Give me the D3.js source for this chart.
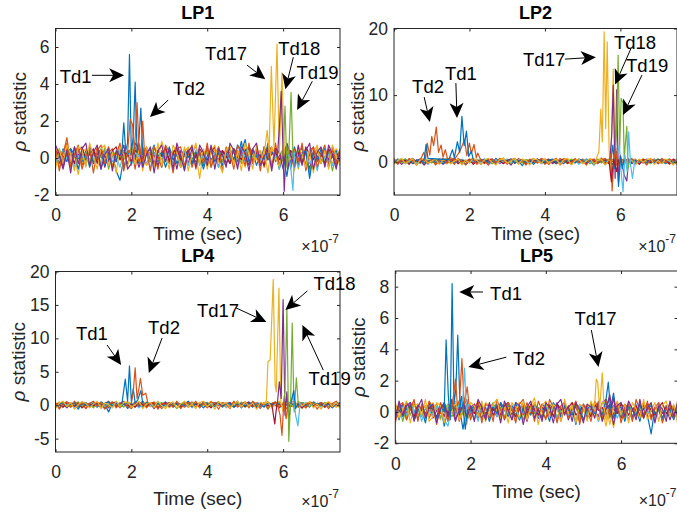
<!DOCTYPE html>
<html lang="en">
<head>
<meta charset="utf-8">
<title>rho statistic, LP1 to LP5</title>
<script src="https://cdn.jsdelivr.net/npm/d3@7"></script>
<style>
  body { margin: 0; background: #fff; }
  svg text { font-family: "Liberation Sans", Arial, Helvetica, sans-serif; fill: #262626; }
  .tick text { font-size: 17.5px; }
  .title { font-size: 18px; font-weight: bold; fill: #000; }
  .axlabel { font-size: 19px; }
  .note { font-size: 18.5px; fill: #000; }
  .expo { font-size: 16px; }
</style>
</head>
<body>
<div id="chart"></div>
<script>
// time axis, in units of 1e-7 s
const timeGrid = d3.range(76).map(i => i / 10);
const xDomain = [0, 7.5];
const xTicks = [0, 2, 4, 6];

const lp1YDomain = [-2, 7], lp1YTicks = [-2, 0, 2, 4, 6];
const lp2YDomain = [-5, 20], lp2YTicks = [0, 10, 20];
const lp4YDomain = [-7, 20], lp4YTicks = [-5, 0, 5, 10, 15, 20];
const lp5YDomain = [-2, 9], lp5YTicks = [-2, 0, 2, 4, 6, 8];

// background rho traces, one row per trace, sampled on timeGrid
const lp1Noise = [
  [.2,-.3,.5,.1,-.4,.6,0,-.2,.4,-.5, .3,.1,-.6,.5,-.1,.2,-.7,-1.2,0,.4, .3,.1,-.3,.6,-.4,.2,.7,-.2,.3,-.5, .1,.4,-.3,.2,-.6,.5,0,-.2,.3,-.4, .6,-.1,.2,-.5,.4,.1,-.3,.5,0,.9, -.2,.6,.3,-.4,.2,-.1,.8,.3,.5,-.6, .2,-1,.4,-.3,.1,.6,-.5,.3,0,-.2, .5,-.4,.3,.1,-.3,.2],
  [-.1,.4,.2,1.1,-.3,.1,.5,-.4,.2,.3, -.2,.6,.1,-.4,.3,.5,-.1,.2,.4,-.3, .1,.6,-.2,.3,.5,-.1,.2,-.6,.4,.1, -.3,.3,.6,-.2,.1,.4,-.5,.2,.3,-.1, .5,-.3,.2,.4,-.2,.6,.1,-.4,.3,.2, -.1,.5,-.3,.2,.4,-.5,.3,.6,-.2,.1, .4,-.3,.2,.5,-.1,.3,-.4,.2,.6,-.2, .1,.3,-.5,.4,.2,-.1],
  [.3,-.5,.2,.4,-.2,.1,-.9,.3,.5,-.1, .2,.4,-.3,.6,.1,-.4,.3,.2,-.6,.4, .1,-.2,.5,.3,-.4,.2,.6,-.1,.9,.3, -.2,.4,.1,-.5,.3,.6,-.3,.2,-1.1,.4, .2,-.4,.5,.1,-.2,.3,.6,-.3,.4,.1, -.5,.3,.2,-.1,.4,-.3,.2,.5,.1,-.4, .3,.6,-.2,.4,-.6,.2,.5,-.1,.3,.7, -.2,.4,.1,-.3,.5,.2],
  [-.2,.1,-.6,.3,.5,-.3,.2,.1,-.4,.6, .2,-.1,.4,-.5,.3,.2,-.2,.5,.1,-.3, .4,.2,-.5,.1,.6,-.2,.3,-.4,.2,.5, -.1,.3,-.6,.4,.2,-.3,.5,.1,-.2,.3, -.4,.6,.2,-.1,.4,-.3,.1,.5,-.2,.3, .2,-.4,.5,.1,-.3,.6,-.1,.2,.4,-.5, .3,.1,-.2,.5,-.4,.3,.2,-.6,.4,.1, -.3,.5,-.1,.2,-.4,.3],
  [.1,.5,-.2,.3,-.4,.2,.6,-.1,.3,-.3, .4,-.2,.1,.5,-.6,.2,.3,-.1,.4,.2, -.3,.5,.1,-.4,.3,-.2,.6,.1,-.5,.2, .4,-.1,.3,-.3,.5,.1,-.2,.4,-.4,.2, .3,-.5,.1,.6,-.2,.3,-.1,.4,.2,-.3, .5,-.2,.1,.3,-.4,.2,.6,-.3,.1,.4, -.2,.3,-.5,.2,.4,-.1,.3,-.8,.2,.5, -.3,.1,.4,-.7,.2,.3],
  [-.3,.2,.4,-.1,.3,-.5,.1,.2,-.3,.5, -.1,.3,-.4,.2,.6,-.2,.1,-.5,.3,.2, -.4,.3,.1,-.2,.5,-.6,.2,.4,-.1,.3, .2,-.3,.5,-.1,.2,-.4,.3,.6,-.2,.1, -.3,.4,.2,-.5,.1,.3,-.2,.5,-.4,.2, .1,.4,-.3,.2,-.1,.5,.3,-.4,.2,-.6, .4,-.2,.3,.1,-.5,.2,.4,-.3,.1,-.7, .3,-.1,.2,-.4,.1,-.2],
  [.4,.1,-.2,.5,.2,-.3,.4,.6,-.1,.2, .5,-.3,.3,.1,-.2,.4,.6,-.1,.3,.2, -.2,.4,.3,-.1,.5,.2,-.3,.4,.1,.6, -.2,.3,.5,-.1,.2,.4,-.3,.1,.5,.2, -.1,.3,.6,-.2,.4,.1,-.3,.5,.2,-.1, .4,.6,-.2,.3,.1,-.4,.5,.2,.3,-.1, .5,-.2,.4,.1,.3,-.3,.6,.2,-.1,.4, .2,-.3,.5,.1,-.2,.3],
  [-.4,.3,.1,-.2,.5,.2,-.6,.3,-.1,.4, -.3,.2,.5,-.4,.1,.3,-.2,.6,-.5,.2, .4,-.1,.3,-.3,.2,.5,-.4,.1,.3,-.2, .6,-.1,.2,-.5,.4,.1,-.3,.3,.2,-.6, .1,.4,-.2,.3,-.4,.2,.5,-.1,.7,.3, 1,-.2,.4,.1,-.3,.5,-.1,.3,.2,-.5, .4,.1,-.3,.6,-.2,.2,.4,-1.1,.3,-.1, .2,.5,-.3,.1,.4,-.2],
  [.6,-.7,.3,.8,-.5,.2,.7,-.6,.1,.5, -.8,.4,.7,-.3,.6,-.5,.2,.8,-.7,.3, .5,-.6,.8,-.2,.4,-.7,.6,.1,-.5,.7, .3,-.8,.5,.6,-.4,.2,.7,-.6,.4,-.3, .8,-.5,.1,.6,-.7,.4,.3,-.6,.7,.2, -.4,.8,-.3,.5,-.7,.6,.2,-.5,.8,-.4, .3,.7,-.6,.5,-.2,.8,-.7,.4,.6,-.5, .2,.7,-.4,.6,-.3,.5],
  [-.6,.5,-.3,.7,.2,-.7,.6,.4,-.5,.8, .1,-.6,.5,.7,-.4,.3,-.8,.6,.2,-.5, .7,-.3,.4,-.7,.6,.1,-.5,.8,-.4,.2, -.6,.7,.3,-.5,.6,-.7,.2,.8,-.3,.5, -.6,.4,.7,-.2,-.8,.5,.6,-.4,.3,-.7, .8,.2,-.6,.7,-.3,.4,-.8,.6,.1,-.5, .7,-.4,.3,-.7,.6,.2,-.5,.5,-.8,.6, -.3,.4,-.6,.7,.1,-.4],
  [.7,.2,-.5,.4,-.8,.6,-.3,.5,.8,-.4, .3,.7,-.6,.2,.5,-.7,.4,.1,.7,-.6, -.3,.8,.5,-.5,.2,.6,-.8,.4,.7,-.2, .5,-.6,.8,.1,-.7,.4,.6,-.5,.7,.3, -.4,.7,-.6,.5,.2,-.5,.8,.4,-.6,.6, .3,-.7,.5,.8,-.4,.1,.6,-.7,.5,.3, -.6,.8,.2,-.5,.7,-.4,.4,.8,-.6,.3, .6,-.5,.7,.2,-.6,.4]
];
const lp2Noise = [
  [.2,-.3,.1,.4,-.2,.3,-.4,.1,.2,-.1, .3,-.2,.4,.1,-.3,.2,.5,-.1,.2,-.4, .1,.3,-.2,.4,-.1,.2,-.3,.5,.1,-.2, .3,-.4,.2,.1,-.6,.3,-.1,.2,.4,-.3, .1,.2,-.2,.3,-.1,.4,.2,-.3,.1,.3, -.2,.4,.1,-.5,.2,-.1,.3,.2,-.4,.1, .3,-.2,.2,.4,-.3,.1,.2,-.1,.3,-.2, .4,.1,-.3,.2,-.1,.3],
  [-.3,.1,.4,-.2,.2,.5,-.1,.3,-.4,.2, .1,-.3,.3,.2,-.2,.4,-.1,.1,.3,-.5, .2,.4,-.1,.2,-.3,.3,.1,-.2,.4,.2, -.1,.3,-.3,.5,.1,-.2,.2,.4,-.1,.3, -.4,.1,.3,-.2,.5,.1,-.3,.2,.3,-.1, .4,-.2,.2,.1,-.3,.3,.5,-.1,.2,-.4, .1,.3,-.2,.2,.4,-.3,.1,.2,-.1,.4, -.2,.3,.1,-.4,.2,.1],
  [.4,-.1,.2,-.3,.3,.1,-.2,.5,-.4,.2, .3,-.1,.1,.4,-.3,.2,-.2,.3,.1,-.4, .5,-.2,.2,.3,-.1,.4,-.3,.1,.2,.6, -.2,.3,.1,-.3,.4,-.1,.2,.5,-.2,.1, .3,-.4,.2,.1,-.1,.5,.3,-.2,.2,.4, -.3,.1,.3,-.2,.2,.6,-.1,.3,.1,-.3, .2,.4,-.2,.1,.3,-.1,.5,-.3,.2,.1, -.2,.4,.3,-.1,.2,-.3],
  [-.2,.3,-.4,.1,.2,-.3,.3,.1,-.5,.2, -.1,.3,.2,-.4,.1,.3,-.2,.2,-.3,.1, .3,-.1,.2,-.4,.3,.1,-.2,.4,-.3,.2, .1,-.5,.3,.2,-.1,.2,-.3,.1,.3,-.2, .2,.4,-.3,.1,-.2,.3,.1,-.4,.2,-.1, .3,-.3,.2,.4,-.2,.1,-.4,.3,.1,-.2, .2,-.1,.3,-.3,.1,.2,-.2,.4,-.1,.2, -.3,.1,.3,-.2,.2,-.1],
  [.1,.3,-.2,.4,-.1,.2,.1,-.3,.3,.2, -.2,.4,-.1,.2,.3,-.3,.1,.4,-.2,.2, -.1,.3,.2,-.3,.1,.4,-.2,.2,.3,-.1, .2,-.3,.4,.1,-.2,.3,.2,-.1,.1,.4, -.2,.2,.3,-.3,.1,.2,-.1,.4,.1,-.2, .3,.2,-.3,.1,.4,-.2,.2,-.1,.3,.1, -.3,.2,.4,-.1,.2,-.2,.3,.1,-.3,.2, .4,-.1,.2,.3,-.2,.1],
  [-.1,.2,.3,-.3,.1,.4,-.2,.1,.3,-.4, .2,.1,-.2,.3,.5,-.1,.2,-.3,.4,.1, -.2,.2,.4,-.1,.3,-.5,.1,.3,-.2,.2, .4,-.1,.2,-.3,.3,.1,-.2,.4,.2,-.1, .3,-.2,.1,.4,-.3,.2,.3,-.1,.2,-.4, .1,.3,-.1,.2,-.2,.4,.1,-.3,.3,.2, -.1,.4,-.2,.1,.3,-.3,.2,.1,-.2,.3, .1,-.3,.2,.4,-.1,.2],
  [.3,-.2,.1,.2,-.4,.3,.1,-.1,.4,-.2, .2,.3,-.3,.1,.2,-.1,.4,-.3,.2,.1, .3,-.4,.1,.2,-.2,.3,.4,-.1,.1,-.3, .2,.4,-.2,.1,.3,-.3,.2,-.1,.4,.1, -.2,.3,.1,-.3,.2,.4,-.2,.1,.3,-.1, .2,-.4,.3,.1,-.2,.3,.2,-.3,.1,.4, -.2,.1,.3,-.1,.2,-.4,.3,.2,-.1,.1, .3,-.2,.2,-.3,.4,.1],
  [-.2,.4,.1,-.1,.3,-.3,.2,.4,-.2,.1, .3,-.1,.2,-.3,.4,.1,-.2,.3,.2,-.4, .1,.3,-.1,.2,.4,-.2,.1,-.3,.3,.2, -.1,.4,-.2,.1,.3,-.1,.2,-.4,.2,.3, -.1,.2,.4,-.2,.1,-.3,.3,.1,-.2,.4, .2,-.1,.3,-.3,.1,.2,-.2,.4,.1,-.1, .3,-.2,.1,.4,-.3,.2,.1,-.2,.3,-.1, .2,.4,-.2,.1,-.3,.2],
  [.5,-.4,.3,-.2,.5,.1,-.5,.4,.2,-.3, .4,-.5,.1,.5,-.2,.3,-.4,.5,.1,-.3, .2,.5,-.4,.3,.1,-.5,.4,-.2,.5,.2, -.4,.3,.5,-.3,.2,-.5,.4,.1,-.2,.5, .3,-.4,.2,.5,-.5,.1,.4,-.3,.5,-.1, .2,-.5,.4,.3,-.2,.5,-.4,.1,.3,-.5, .4,.2,-.3,.5,-.4,.3,.1,-.5,.4,.2, -.3,.5,-.2,.4,.1,-.4],
  [-.4,.2,.5,-.3,.1,.4,-.5,.3,.5,-.2, .1,.4,-.4,.2,.5,-.3,.1,.4,-.5,.3, -.2,.5,.2,-.4,.3,.5,-.1,-.5,.3,.4, -.2,.1,.5,-.4,.3,.2,-.5,.4,.3,-.3, .5,-.2,.1,.4,-.4,.3,.5,-.5,.2,.4, -.3,.1,.5,-.4,.2,.3,-.5,.4,.1,-.2, .5,-.4,.3,.2,-.5,.4,-.1,.3,.5,-.4, .2,-.3,.4,.1,-.5,.3]
];
const lp4Noise = [
  [.3,-.4,.2,.5,-.2,.1,-.6,.3,.4,-.1, .2,-.3,.5,.1,-1,.3,.2,-.2,.4,-.5, .1,.3,-.2,.6,-.1,.2,.4,-.3,.1,.5, -.2,.3,.1,-.4,.2,.6,-.1,.3,-.3,.2, .4,-.2,.1,.5,-.3,.2,.3,-.1,.6,-.4, .2,.1,-.3,.4,.2,-.2,.5,-.1,.3,-.4, .1,.6,-.2,.3,-.1,.4,.2,-.3,.5,.1, -.2,.3,.4,-.1,.2,-.3],
  [-.2,.3,.5,-.3,.1,.4,-.1,.2,-.5,.3, .1,.4,-.2,.3,.6,-.1,.2,-.4,.3,.1, -.3,.5,.2,-.1,.3,-.2,.4,.1,-.5,.2, .3,-.1,.4,.2,-.3,.1,.5,-.2,.3,.1, -.4,.2,.3,-.1,.4,.2,-.3,.5,.1,-.2, .3,.4,-.2,.1,-.5,.3,.2,-.1,.4,.2, -.3,.1,.5,-.2,.3,.1,-.4,.2,.3,-.1, .4,-.3,.2,.1,-.2,.4],
  [.1,.5,-.3,.2,-.1,.4,.3,-.4,.2,.1, -.2,.3,.4,-.3,.1,.5,-.2,.2,.3,-.1, .4,-.3,.1,.2,.5,-.2,.3,-.1,.2,.4, -.4,.1,.3,-.2,.5,.2,-.3,.1,.4,-.1, .2,.6,-.2,.3,.1,-.4,.2,.3,-.1,.5, -.3,.2,.1,.4,-.2,.3,.5,-.1,.2,-.3, .4,.1,-.2,.3,.2,-.5,.1,.4,-.1,.3, .2,-.2,.5,.1,-.3,.2],
  [-.3,.2,.1,-.4,.3,.2,-.1,.5,.1,-.3, .4,-.2,.2,.1,-.4,.3,.5,-.1,.2,-.3, .1,.4,-.2,.3,-.1,.2,-.5,.3,.1,.4, -.2,.2,.3,-.1,.4,-.3,.1,.2,-.2,.5, .1,-.3,.4,.2,-.1,.3,-.2,.1,.4,-.3, .2,.5,-.1,.3,-.2,.1,.4,-.3,.2,.1, -.2,.3,.1,-.4,.5,.2,-.1,.3,-.2,.1, .4,-.1,.2,-.3,.3,.1],
  [.2,-.1,.4,.1,-.3,.2,.5,-.2,.3,.1, -.4,.2,.1,.3,-.2,.4,-.1,.2,-.3,.5, .1,-.2,.3,.4,-.1,.2,-.3,.1,.4,-.2, .3,.1,-.5,.2,.3,-.1,.4,.2,-.2,.1, .3,-.3,.2,.5,-.1,.1,.3,-.2,.4,.1, -.3,.2,.4,-.1,.1,.3,-.4,.2,.5,-.2, .1,.3,-.1,.2,-.3,.4,.1,-.2,.3,.2, -.1,.4,-.3,.2,.1,-.2],
  [-.1,.3,-.2,.2,.4,-.3,.1,.3,-.1,.2, .5,-.2,.1,-.3,.3,.2,-.1,.4,.1,-.2, .3,.1,-.4,.2,.3,-.1,.2,.5,-.3,.1, .2,-.2,.4,.1,-.1,.3,-.4,.2,.1,.3, -.2,.4,-.1,.2,.3,-.3,.1,.2,-.2,.4, .1,-.1,.3,.2,-.4,.1,.3,-.2,.2,.4, -.1,.2,-.3,.3,.1,-.2,.4,.1,-.1,.3, -.3,.2,.1,-.2,.4,.1],
  [.3,.1,-.3,.4,.2,-.2,.3,-.4,.1,.2, -.1,.3,.2,-.5,.1,.4,-.2,.3,.1,-.1, .2,-.3,.4,.1,-.2,.3,.2,-.4,.1,.3, .2,-.1,.3,-.3,.1,.4,-.2,.2,-.1,.3, .1,-.4,.2,.3,-.1,.2,.4,-.3,.1,.2, -.2,.3,.1,-.4,.3,.2,-.1,.2,.4,-.3, .2,.1,-.2,.3,.1,-.4,.2,.3,-.1,.2, .1,-.3,.4,-.1,.2,.3],
  [-.4,.2,.3,-.1,.1,.4,-.3,.2,.1,-.2, .3,.1,-.4,.2,.5,-.1,.3,-.2,.1,.4, -.2,.2,.1,-.3,.4,.2,-.1,.3,-.2,.1, .4,-.3,.2,.1,-.1,.5,-.2,.3,.1,-.4, .2,.1,-.2,.4,-.1,.3,.2,-.3,.1,.3, -.1,.2,.4,-.2,.1,-.3,.3,.2,-.1,.4, -.2,.1,.3,-.3,.2,.1,-.1,.4,-.2,.2, .3,-.1,.1,-.4,.2,.3],
  [.4,-.6,.2,.5,-.3,.6,-.1,.4,-.5,.3, .6,-.2,.4,-.6,.1,.5,-.4,.3,.6,-.2, -.5,.3,.1,.6,-.4,.2,.5,-.6,.3,.1, .4,-.3,.6,-.5,.2,.4,-.1,.6,-.4,.3, -.2,.5,.3,-.6,.4,.1,-.5,.6,-.3,.2, .5,-.4,.6,.1,-.3,.4,-.6,.3,.5,-.2, .1,-.5,.4,.6,-.3,.2,-.4,.5,.3,-.6, .4,.2,-.5,.3,.6,-.2],
  [-.5,.3,.6,-.2,.4,-.6,.1,.5,.3,-.4, .2,.6,-.5,.3,.1,-.4,.6,-.2,.4,.5, -.3,.1,.6,-.5,.2,.4,-.3,.6,-.1,-.5, .3,.5,-.4,.2,.6,-.3,.1,-.5,.4,.6, -.2,.3,-.6,.5,.1,.4,-.4,.2,.6,-.3, .5,-.1,.3,-.6,.4,.2,.5,-.4,.1,.6, -.3,.4,.2,-.5,.6,-.1,.3,.5,-.4,.2, -.6,.3,.5,-.2,.4,-.5]
];
const lp5Noise = [
  [.3,-.5,.4,-.2,.6,.1,-.4,.2,-.7,.5, .1,-.3,.4,-.9,.2,.6,-.1,.3,-1.1,.4, -.2,.5,.1,-.4,.3,-.6,.2,.5,-.3,.1, .4,-.2,.6,-.5,.2,.3,-.1,.5,-.4,.2, .1,-.6,.4,.2,-.3,.5,-.1,.3,-.8,.4, .2,-.3,.6,-.1,.4,-.5,.2,.9,-.2,.3, -.4,.1,.5,-.3,.2,-.6,.4,-.2,-1.4,.3, .1,-.5,.4,.2,-.3,.1],
  [-.2,.4,.1,-.5,.3,.6,-.2,.1,.4,-.4, .2,.5,-.1,.3,-.6,.2,.4,-.3,.1,.5, -.2,.3,.6,-.1,.2,-.4,.5,.1,-.3,.4, .2,-.5,.3,.1,-.2,.6,-.1,.4,.2,-.3, .5,-.2,.1,.4,-.6,.3,.2,-.1,.5,-.3, .1,.4,-.2,.3,.6,-.4,.2,.1,-.3,.5, -.1,.3,-.5,.2,.4,-.2,.6,.1,-.4,.3, .2,-.6,.4,-.1,.3,-.5],
  [.5,-.1,.3,-.4,.2,.6,-.3,.1,.4,-.2, .6,.1,-.5,.3,.2,-.1,.4,-.3,.5,.2, -.4,.1,.3,-.2,.6,.4,-.3,.2,-.1,.5, .3,-.4,.2,.6,.4,-.2,.4,.9,-.3,.5, .2,-.1,.4,-.5,.3,.1,-.2,.6,.3,-.4, .2,.5,-.1,.3,-.6,.2,-.9,.4,-1,.3, .1,-.4,.5,.2,-.3,.6,-.1,.3,.2,-.5, .4,.1,-.3,.5,-.2,.3],
  [-.3,.2,.5,-.1,.4,-.5,.2,.3,-.2,.6, -.4,.1,.3,-.3,.5,.2,-.6,.4,.1,-.2, .3,.5,-.4,.2,-.1,.4,.2,-.3,.6,-.5, .1,.3,-.2,.4,.2,-.6,.3,.1,-.4,.5, .2,-.3,.1,.6,-.2,.4,-.5,.2,.3,-.1, .5,-.4,.2,.1,-.3,.6,.8,-.2,.4,.1, -.3,.5,.2,-.4,.3,.1,-.2,.6,-.3,.2, .4,-.1,.3,-.5,.2,.1],
  [.1,.4,-.6,.3,-.2,.5,.1,-.3,.2,.4, -.1,.3,-.4,.6,.2,-.3,.1,.5,-.2,.3, .2,-.5,.4,.1,-.3,.2,.6,-.1,.3,-.4, .5,.1,-.2,.3,-.5,.2,.4,-.1,.3,.1, -.4,.5,.2,-.3,.1,.4,-.2,.3,.5,-.6, .2,.1,-.3,.4,.2,-.1,.5,-.4,.3,.1, .6,-.2,.3,-.5,.1,.4,-.3,.2,.5,-.1, .3,-.4,.2,.1,-.2,.4],
  [-.5,.2,.3,-.2,.5,-.1,.4,-.6,.2,.1, -.3,.4,.2,-.5,-.9,.3,-.2,.5,.1,-.4, .3,.2,-.6,.4,.1,-.2,.5,-.3,.2,.4, -.1,.3,-.5,.2,.6,-.2,.1,.4,-.3,.2, .5,-.1,.3,-.4,.2,.6,-.2,.1,-.5,.3, .4,-.2,.1,.3,-.6,.2,-.1,.5,.3,-.4, .2,.4,-.2,.1,.5,-.3,.3,-.1,.2,-.4, .6,.1,-.3,.4,-.2,.1],
  [.4,.1,-.2,.6,.2,-.3,.5,.1,-.1,.3, .2,-.4,.5,.3,-.1,.4,.2,-.2,.6,.1, .3,-.1,.4,.2,-.3,.5,.1,.3,-.2,.4, .6,.1,-.3,.2,.4,-.1,.5,.2,-.2,.3, .1,.4,-.3,.5,.2,-.1,.3,.6,-.2,.1, .4,.2,-.3,.5,.1,.3,-.2,.4,.2,-.1, .5,.3,-.2,.1,.4,-.3,.2,.5,.1,-.2, .3,.6,-.1,.2,.4,-.3],
  [-.1,.5,-.3,.2,.4,-.5,.1,.3,-.2,.6, .2,-.4,.1,.5,-.3,.2,.4,-.1,.3,-.6, .1,.4,-.2,.5,-.4,.2,.3,-.1,.6,.2, -.3,.4,.1,-.5,.3,.2,-.2,.5,.1,-.4, .3,-.1,.6,.2,-.3,.4,.1,-.2,.5,.3, -.5,.2,.4,-.1,.3,-.2,.6,.1,-.4,.2, .3,-.6,.4,.1,-.2,.5,-.3,.2,.4,-.1, .2,-.4,.3,.1,-.5,.2],
  [-.7,.4,.6,-.5,.2,.8,-.6,.5,-.3,.7, .3,-.8,.6,.1,-.5,.7,.4,-.6,.3,.8, -.5,.2,.7,-.7,.5,.3,-.6,.8,.1,-.4, .6,.2,-.7,.5,.8,-.3,.4,-.6,.7,.1, -.5,.8,.3,-.7,.4,.6,-.4,.2,.7,-.8, .5,.1,-.6,.7,.3,-.5,.8,-.3,.4,.6, -.7,.2,.5,-.6,.8,.1,-.4,.7,-.5,.3, .6,-.7,.2,.5,-.4,.7],
  [.6,-.4,.2,.7,-.7,.4,.5,-.2,.8,-.6, -.3,.6,.4,-.7,.5,-.1,.7,-.5,.2,-.8, .6,.4,-.3,.7,-.6,.1,.5,.8,-.5,.3, -.7,.6,.2,-.4,.7,-.5,.3,.6,-.8,.4, .7,-.3,.5,.2,-.6,.8,-.1,.4,-.7,.5, .3,-.6,.7,.1,-.5,.6,.4,-.8,.3,.7, -.2,.5,-.7,.6,.2,-.4,.8,-.5,.1,.6, -.6,.4,.7,-.3,.5,-.7],
  [-.5,.7,-.2,.4,.6,-.6,.3,.8,-.4,.2, .5,-.7,.2,.6,-.3,.8,-.5,.1,.7,-.4, .4,-.6,.8,.3,-.5,.6,-.2,.4,-.7,.7, .1,-.5,.6,.4,-.8,.3,.7,-.4,.2,-.6, .6,.3,-.7,.5,.8,-.2,.4,-.6,.6,.1, -.7,.5,.3,-.4,.7,-.6,.2,.5,-.8,.4, .6,-.3,.7,.2,-.5,.8,-.4,.3,.6,-.7, .4,.2,-.6,.7,-.3,.5]
];

// detection peaks: [trace number, [[time, rho], ...]]
const lp1Peaks = [
  [0, [[1.7,.2],[1.75,.3],[1.8,1.9],[1.85,.4],[1.9,.8],[1.95,5.6],[2,.2],[2.05,1.2],[2.1,4.1],[2.15,.3],[2.2,1],[2.25,2.7],[2.3,.2],[2.35,.4]]],
  [1, [[1.9,.3],[1.97,2.1],[2.03,1.8],[2.08,.3],[2.15,3],[2.2,.5],[2.25,.2],[2.3,2],[2.35,.1]]],
  [2, [[5.5,.2],[5.58,1.5],[5.63,.3],[5.69,4.95],[5.76,.6],[5.84,6.15],[5.9,.2],[5.97,4.6],[6.03,.4]]],
  [3, [[5.85,.1],[5.9,1.6],[5.95,3.6],[6,.3],[6.03,-1.8],[6.08,.5],[6.12,-.6],[6.2,.3]]],
  [4, [[6,.1],[6.05,2.8],[6.1,-.5],[6.15,.2],[6.21,3.55],[6.26,.1],[6.3,.4]]],
  [5, [[6.15,.2],[6.2,-.5],[6.26,-1.75],[6.3,.3]]]
];
const lp2Peaks = [
  [1, [[.7,.3],[.79,1.4],[.84,.4],[.88,2.8],[.95,1],[1,3.8],[1.05,2.4],[1.12,5.2],[1.18,1.4],[1.25,2.5],[1.3,.7],[1.36,1.8],[1.42,.4],[1.5,.6],[1.6,.3],[1.75,1.6],[1.87,3.3],[1.93,.9],[2,2.8],[2.05,1.2],[2.12,2.6],[2.18,.6],[2.22,1.3],[2.3,.2]]],
  [0, [[.8,.3],[.85,2.6],[.9,.5],[1.45,.3],[1.55,1.8],[1.6,.6],[1.68,3],[1.74,1.4],[1.8,6.8],[1.86,2.4],[1.92,4.6],[1.98,.8],[2.05,1.6],[2.1,.3]]],
  [2, [[5.35,.3],[5.43,1.5],[5.48,7.9],[5.52,3],[5.57,19.5],[5.61,5],[5.65,18],[5.7,2],[5.74,-2],[5.81,13.9],[5.86,.5],[5.92,.2]]],
  [3, [[5.72,.2],[5.77,4],[5.81,11.5],[5.86,-2.5],[5.9,10.8],[5.95,-3],[6,1],[6.1,-2],[6.17,-2.9],[6.22,.5]]],
  [4, [[5.85,.2],[5.9,5],[5.94,16],[5.98,2],[6.02,9.5],[6.07,8.8],[6.1,.5],[6.17,5.3],[6.2,-1],[6.25,.3]]],
  [5, [[5.9,.3],[5.97,2.5],[6.02,-1.5],[6.07,-4.5],[6.12,1],[6.18,-1.5],[6.22,4.5],[6.27,-.5],[6.32,-2.5],[6.38,.2]]],
  [0, [[5.75,.3],[5.8,2.5],[5.85,-1],[5.9,1.5],[5.95,-3.7],[6,.8],[6.05,-1],[6.1,.3]]],
  [1, [[5.7,.2],[5.75,1.2],[5.78,-4.4],[5.83,.5],[5.88,2],[5.92,-1],[5.97,.3]]],
  [6, [[5.7,.1],[5.76,-3],[5.82,.4],[5.9,-1.5],[5.95,.3]]]
];
const lp4Peaks = [
  [0, [[1.75,.2],[1.84,3.9],[1.9,.6],[1.95,5.9],[2,.5],[2.05,2.5],[2.1,.3],[2.17,.8],[2.25,2.2],[2.3,.3]]],
  [1, [[2,.3],[2.05,2],[2.1,5.6],[2.15,1],[2.2,2.5],[2.24,4],[2.3,1.5],[2.38,1.8],[2.44,.2]]],
  [2, [[5.5,.3],[5.56,.7],[5.6,6.5],[5.66,6.8],[5.74,18.8],[5.79,3],[5.82,2],[5.89,17.5],[5.94,.5],[6,-1],[6.05,.3]]],
  [3, [[5.85,.3],[5.9,3.5],[5.95,1],[6,15.8],[6.05,-1.5],[6.1,2],[6.15,-2.5],[6.2,.3]]],
  [4, [[6,.3],[6.05,2],[6.1,14.5],[6.15,-5.4],[6.2,1],[6.24,12.3],[6.29,-1],[6.35,4.1],[6.4,.2]]],
  [1, [[5.85,.2],[5.92,-1.5],[5.97,-4.5],[6.02,.5],[6.08,-2],[6.13,.5]]],
  [5, [[6.2,.3],[6.28,1.5],[6.33,-1.5],[6.39,-3.1],[6.45,.3]]],
  [6, [[5.7,.2],[5.78,-2.8],[5.84,.4]]],
  [0, [[6.2,.2],[6.28,2.2],[6.33,-.5],[6.4,.3]]]
];
const lp5Peaks = [
  [0, [[1.25,.2],[1.3,0],[1.35,4.6],[1.41,1],[1.46,-.5],[1.51,8.2],[1.56,.5],[1.61,1.5],[1.66,4.9],[1.72,.3],[1.76,1],[1.8,.2],[1.86,-1.1],[1.92,.2]]],
  [1, [[1.5,.2],[1.6,2.1],[1.65,.4],[1.71,.8],[1.77,3.4],[1.83,.5],[1.91,1.6],[1.97,.2]]],
  [5, [[1.75,.3],[1.8,1],[1.84,2.8],[1.89,.1],[1.95,.5]]],
  [2, [[5.25,.2],[5.3,.5],[5.34,2.1],[5.38,1.9],[5.43,.2],[5.5,2.5],[5.55,.3],[5.6,-.5],[5.65,.2]]],
  [0, [[5.55,.3],[5.6,.8],[5.66,1.9],[5.72,.2],[5.8,1.2],[5.86,.1]]],
  [3, [[5.6,.2],[5.7,1.1],[5.75,.3],[5.8,.9],[5.85,.1]]]
];

// text arrows: [label, text t, text rho, tail t, tail rho, head t, head rho]
const lp1Notes = [
  ["Td1", .11, 4.39, .96, 4.47, 1.81, 4.47],
  ["Td2", 3.1, 3.78, 2.97, 3.13, 2.49, 2.21],
  ["Td17", 3.94, 5.68, 5.05, 5.02, 5.53, 4.26],
  ["Td18", 5.87, 5.94, 6.27, 5.45, 6.06, 3.72],
  ["Td19", 6.35, 4.64, 6.77, 4.15, 6.37, 2.59]
];
const lp2Notes = [
  ["Td17", 3.42, 15.4, 4.53, 15.4, 5.35, 15.7],
  ["Td18", 5.83, 17.9, 6.28, 17, 5.86, 11.6],
  ["Td19", 6.15, 14.5, 6.57, 13, 6.07, 7],
  ["Td2", .48, 11.35, .8, 9.7, .95, 5.95],
  ["Td1", 1.35, 13.3, 1.64, 11.8, 1.67, 6.55]
];
const lp4Notes = [
  ["Td1", .54, 10.8, 1.36, 9, 1.73, 6],
  ["Td2", 2.44, 11.7, 2.81, 10.05, 2.46, 4.8],
  ["Td17", 3.73, 14.25, 4.76, 14.55, 5.56, 12.45],
  ["Td18", 6.8, 18.3, 6.64, 17.1, 6.06, 14.25],
  ["Td19", 6.67, 4.06, 7.06, 5.25, 6.51, 12]
];
const lp5Notes = [
  ["Td1", 2.52, 7.6, 2.33, 7.66, 1.7, 7.66],
  ["Td2", 3.13, 3.44, 2.95, 3.5, 1.94, 2.87],
  ["Td17", 4.76, 6, 5.21, 5.23, 5.4, 2.87]
];

const traceColors = ["#0072BD", "#D95319", "#EDB120", "#7E2F8E", "#77AC30", "#4DBEEE", "#A2142F"];

const panels = [
  { title: "LP1", noise: lp1Noise, peaks: lp1Peaks, notes: lp1Notes, yDomain: lp1YDomain, yTicks: lp1YTicks,
    left: 55.5, top: 28.5, right: 340, bottom: 195, titleY: 19, xlabY: 239.5, expoY: 252, ylabX: 19 },
  { title: "LP2", noise: lp2Noise, peaks: lp2Peaks, notes: lp2Notes, yDomain: lp2YDomain, yTicks: lp2YTicks,
    left: 394, top: 28.5, right: 677, bottom: 195, titleY: 19, xlabY: 239.5, expoY: 252, ylabX: 357 },
  { title: "LP4", noise: lp4Noise, peaks: lp4Peaks, notes: lp4Notes, yDomain: lp4YDomain, yTicks: lp4YTicks,
    left: 55.5, top: 271.5, right: 340, bottom: 452, titleY: 262, xlabY: 505, expoY: 507, ylabX: 18 },
  { title: "LP5", noise: lp5Noise, peaks: lp5Peaks, notes: lp5Notes, yDomain: lp5YDomain, yTicks: lp5YTicks,
    left: 395.3, top: 271, right: 677.5, bottom: 443.3, titleY: 262, xlabY: 498, expoY: 506, ylabX: 358 }
];

const svg = d3.select("#chart").append("svg")
    .attr("width", 677)
    .attr("height", 516);

panels.forEach((p, k) => drawPanel(p, k));

function drawPanel(p, k) {
  let x = d3.scaleLinear().domain(xDomain).range([p.left, p.right]);
  let y = d3.scaleLinear().domain(p.yDomain).range([p.bottom, p.top]);
  let g = svg.append("g");

  g.append("clipPath").attr("id", "clip" + k)
    .append("rect")
    .attr("x", p.left).attr("y", p.top)
    .attr("width", p.right - p.left).attr("height", p.bottom - p.top);

  let lines = g.append("g").attr("clip-path", "url(#clip" + k + ")")
      .attr("fill", "none")
      .attr("stroke-width", 1.2)
      .attr("stroke-linejoin", "round");

  let noiseLine = d3.line().x((d, i) => x(timeGrid[i])).y(d => y(d));
  lines.selectAll("path.noise")
    .data(p.noise)
    .join("path")
    .attr("class", "noise")
    .attr("stroke", (d, i) => traceColors[i % 7])
    .attr("d", noiseLine);

  let peakLine = d3.line().x(d => x(d[0])).y(d => y(d[1]));
  lines.selectAll("path.peak")
    .data(p.peaks)
    .join("path")
    .attr("class", "peak")
    .attr("stroke", d => traceColors[d[0]])
    .attr("d", d => peakLine(d[1]));

  // ticks on all four sides, pointing inward like MATLAB
  let axes = g.append("g").attr("color", "#262626");
  axes.append("g").attr("transform", "translate(0," + p.bottom + ")")
    .call(d3.axisBottom(x).tickValues(xTicks).tickSizeInner(-3).tickSizeOuter(0).tickPadding(14).tickFormat(d => d));
  axes.append("g").attr("transform", "translate(0," + p.top + ")")
    .call(d3.axisTop(x).tickValues(xTicks).tickSizeInner(-3).tickSizeOuter(0).tickFormat(""));
  axes.append("g").attr("transform", "translate(" + p.left + ",0)")
    .call(d3.axisLeft(y).tickValues(p.yTicks).tickSizeInner(-3).tickSizeOuter(0).tickPadding(6).tickFormat(d => d));
  axes.append("g").attr("transform", "translate(" + p.right + ",0)")
    .call(d3.axisRight(y).tickValues(p.yTicks).tickSizeInner(-3).tickSizeOuter(0).tickFormat(""));
  axes.selectAll(".domain").remove();

  g.append("rect")
    .attr("x", p.left).attr("y", p.top)
    .attr("width", p.right - p.left).attr("height", p.bottom - p.top)
    .attr("fill", "none").attr("stroke", "#262626").attr("stroke-width", 1);

  let cx = (p.left + p.right) / 2;
  g.append("text").attr("class", "title")
    .attr("x", cx).attr("y", p.titleY)
    .attr("text-anchor", "middle")
    .text(p.title);

  g.append("text").attr("class", "axlabel")
    .attr("x", cx).attr("y", p.xlabY)
    .attr("text-anchor", "middle")
    .text("Time (sec)");

  let yl = g.append("text").attr("class", "axlabel")
    .attr("transform", "translate(" + p.ylabX + "," + (p.top + p.bottom) / 2 + ") rotate(-90)")
    .attr("text-anchor", "middle")
    .attr("dy", "0.35em");
  yl.append("tspan").attr("font-style", "italic").text("ρ");
  yl.append("tspan").text(" statistic");

  let ex = g.append("text").attr("class", "expo")
    .attr("x", p.right - 1).attr("y", p.expoY)
    .attr("text-anchor", "end");
  ex.append("tspan").text("×10");
  ex.append("tspan").attr("dy", -9).attr("font-size", 12).text("-7");

  p.notes.forEach(n => {
    arrow(g, x(n[3]), y(n[4]), x(n[5]), y(n[6]));
    g.append("text").attr("class", "note")
      .attr("x", x(n[1])).attr("y", y(n[2]))
      .attr("dy", "0.36em")
      .text(n[0]);
  });
}

function arrow(g, x1, y1, x2, y2) {
  let a = Math.atan2(y2 - y1, x2 - x1),
      L = 15, W = 7, N = 4;
  let ux = Math.cos(a), uy = Math.sin(a), nx = -uy, ny = ux;
  let bx = x2 - ux * L, by = y2 - uy * L,
      mx = x2 - ux * (L - N), my = y2 - uy * (L - N);
  g.append("line")
    .attr("x1", x1).attr("y1", y1).attr("x2", mx).attr("y2", my)
    .attr("stroke", "#000").attr("stroke-width", 1);
  g.append("path")
    .attr("d", "M" + x2 + "," + y2 + "L" + (bx + nx * W) + "," + (by + ny * W) +
               "L" + mx + "," + my + "L" + (bx - nx * W) + "," + (by - ny * W) + "Z")
    .attr("fill", "#000");
}
</script>
</body>
</html>
